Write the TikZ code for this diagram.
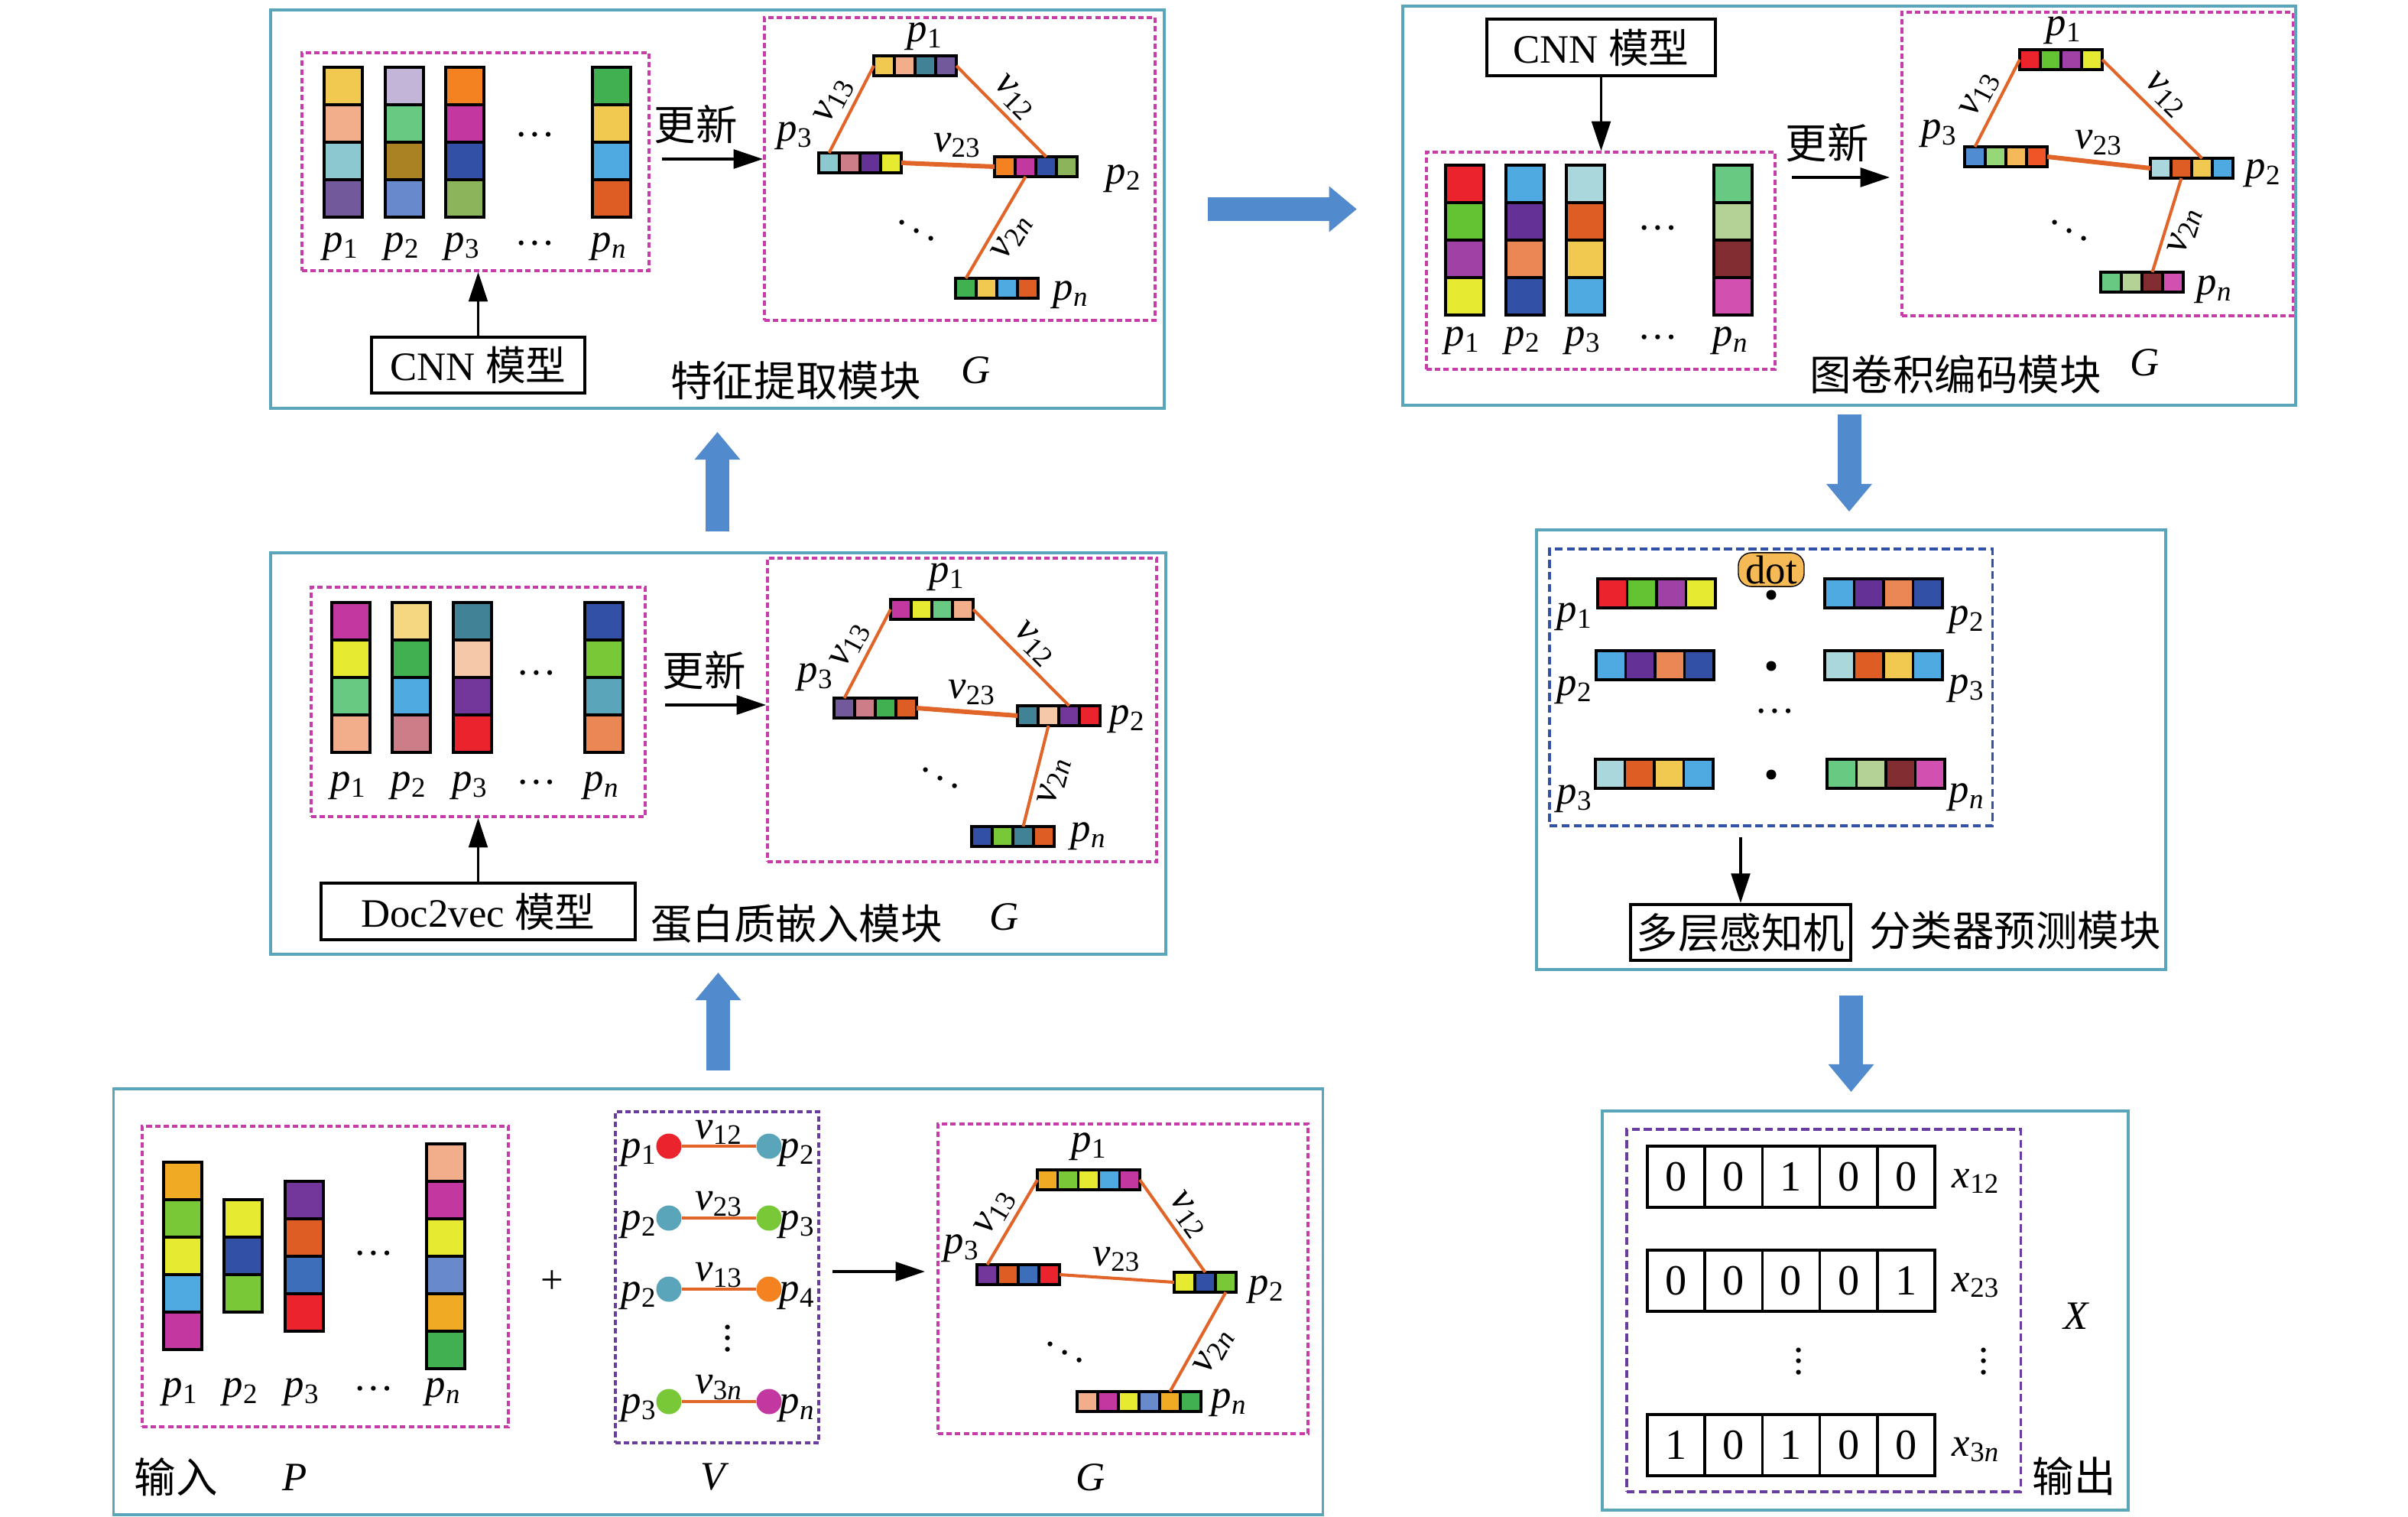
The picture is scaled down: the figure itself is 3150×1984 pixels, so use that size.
\documentclass[tikz,border=0pt]{standalone}
\usepackage{fontspec}
\setmainfont{Liberation Serif}
\newfontfamily\cjk{Noto Sans CJK SC}
\usetikzlibrary{arrows.meta}

% frame and line colours
\definecolor{boxteal}{RGB}{90,165,185}
\definecolor{arrowblue}{RGB}{82,139,205}
\definecolor{dashpink}{RGB}{200,60,170}
\definecolor{dashpurple}{RGB}{105,60,160}
\definecolor{dashblue}{RGB}{50,80,165}
\definecolor{edgeorange}{RGB}{225,100,40}
\definecolor{dotorange}{RGB}{245,185,85}
% cell colours
\definecolor{cY}{RGB}{241,200,80}
\definecolor{cSa}{RGB}{242,174,138}
\definecolor{cLt}{RGB}{139,200,208}
\definecolor{cPu}{RGB}{113,89,155}
\definecolor{cLav}{RGB}{195,181,215}
\definecolor{cGr}{RGB}{104,201,130}
\definecolor{cOl}{RGB}{170,130,35}
\definecolor{cCo}{RGB}{104,138,205}
\definecolor{cOr}{RGB}{245,130,32}
\definecolor{cMa}{RGB}{195,55,160}
\definecolor{cDb}{RGB}{50,80,165}
\definecolor{cOg}{RGB}{140,180,90}
\definecolor{cDg}{RGB}{64,176,80}
\definecolor{cSb}{RGB}{78,170,225}
\definecolor{cRo}{RGB}{222,93,36}
\definecolor{cTe}{RGB}{65,130,150}
\definecolor{cRose}{RGB}{205,125,135}
\definecolor{cVi}{RGB}{100,50,150}
\definecolor{cLy}{RGB}{230,235,50}
\definecolor{cRe}{RGB}{235,35,45}
\definecolor{cLg}{RGB}{100,195,50}
\definecolor{cPl}{RGB}{160,65,165}
\definecolor{cSo}{RGB}{235,135,85}
\definecolor{cLb}{RGB}{170,215,220}
\definecolor{cLgg}{RGB}{180,210,150}
\definecolor{cMr}{RGB}{130,45,50}
\definecolor{cPk}{RGB}{210,80,175}
\definecolor{cBl}{RGB}{80,140,210}
\definecolor{cLgn}{RGB}{150,215,120}
\definecolor{cLor}{RGB}{245,185,90}
\definecolor{cOrr}{RGB}{240,85,40}
\definecolor{cPy}{RGB}{245,215,130}
\definecolor{cPe}{RGB}{245,200,170}
\definecolor{cPv}{RGB}{115,55,155}
\definecolor{cGg}{RGB}{120,200,55}
\definecolor{cTl}{RGB}{90,165,185}
\definecolor{cGo}{RGB}{240,170,35}
\definecolor{cBm}{RGB}{60,110,185}

\newcommand{\lab}[2]{\textit{#1}\textsubscript{#2}}

\tikzset{
  module/.style={draw=boxteal, line width=1.1pt, inner sep=0pt},
  group/.style={draw=dashpink, line width=0.95pt, dash pattern=on 2pt off 1.2pt, inner sep=0pt},
  cell/.style={draw=black, line width=0.9pt, inner sep=0pt, outer sep=0pt},
  colcell/.style={cell, minimum width=0.5cm, minimum height=0.49cm},
  bit/.style={cell, line width=1pt, minimum width=0.752cm, minimum height=0.8cm, font=\fontsize{16}{18}\selectfont},
  model/.style={draw=black, line width=1.1pt, inner sep=0pt},
  edge/.style={draw=edgeorange, line width=1.15pt},
  elab/.style={inner sep=2pt},
  vert/.style={circle, inner sep=0pt, minimum size=0.33cm},
  dotop/.style={circle, fill=black, inner sep=0pt, minimum size=0.13cm},
  dotlab/.style={draw=black, fill=dotorange, rounded corners=0.17cm, inner sep=1pt,
    minimum width=0.86cm, minimum height=0.38cm},
  cn/.style={font=\cjk\fontsize{15.5}{18}\selectfont},
  bigarrow/.style={arrowblue, line width=0.31cm,
    -{Triangle[length=0.36cm, width=0.6cm, line width=0pt]}},
}

% one column of feature cells
\newcommand{\featcol}[4]{%
  \foreach \col [count=\i] in {#4}
    \node[colcell, fill=\col] (#1-\i) at (#2, {#3+(\i-0.5)*49}) {};
}
% one row of feature cells
\newcommand{\featrow}[6]{%
  \foreach \col [count=\i] in {#6}
    \node[cell, fill=\col, minimum width=#4*0.01cm, minimum height=#5*0.01cm]
      (#1-\i) at ({#2+(\i-0.5)*#4}, #3) {};
}

\begin{document}
\begin{tikzpicture}[x=0.01cm, y=-0.01cm, >={Triangle[length=11pt,width=7pt]},
  font=\fontsize{15}{18}\selectfont]
\useasboundingbox (0,0) rectangle (3150,1984);

% modules
\node[module, minimum width=11.69cm, minimum height=5.21cm] (modA) at (938.5,273.5) {};
\node[module, minimum width=11.68cm, minimum height=5.22cm] (modB) at (2419,269) {};
\node[module, minimum width=11.71cm, minimum height=5.25cm] (modC) at (939.5,985.5) {};
\node[module, minimum width=15.81cm, minimum height=5.57cm] (modD) at (939.5,1702.5) {};
\node[module, minimum width=8.23cm, minimum height=5.75cm] (modE) at (2421.5,980.5) {};
\node[module, minimum width=6.88cm, minimum height=5.22cm] (modF) at (2440,1714) {};

% flow between modules
\draw[bigarrow, shorten <=0.22cm, shorten >=0.22cm] (modC.south |- modD.north) -- (modC.south);
\draw[bigarrow, shorten <=0.26cm, shorten >=0.29cm] (modA.south |- modC.north) -- (modA.south);
\draw[bigarrow, shorten <=0.55cm, shorten >=0.58cm] (modA.east) -- (modA.east -| modB.west);
\draw[bigarrow, shorten <=0.1cm, shorten >=0.22cm] (modB.south) -- (modB.south |- modE.north);
\draw[bigarrow, shorten <=0.32cm, shorten >=0.23cm] (modE.south) -- (modE.south |- modF.north);

%%% feature extraction module
\node[group, minimum width=4.54cm, minimum height=2.85cm] (featA) at (622,211.5) {};
\featcol{cA1}{449}{88}{cY,cSa,cLt,cPu}
\featcol{cA2}{529}{88}{cLav,cGr,cOl,cCo}
\featcol{cA3}{608}{88}{cOr,cMa,cDb,cOg}
\featcol{cAn}{800}{88}{cDg,cY,cSb,cRo}
\node (dA) at (700,176) {\dots};
\node (lA1) at (446,323) {\lab{p}{1}};
\node (lA2) at (526,323) {\lab{p}{2}};
\node (lA3) at (605,323) {\lab{p}{3}};
\node (lAd) at (700,318) {\dots};
\node (lAn) at (797,323) {\lab{p}{\textit{n}}};
\node[model, minimum width=2.79cm, minimum height=0.73cm] (cnnA) at (625.5,477.5) {CNN {\cjk 模型}};
\draw[->, line width=1pt] (cnnA.north) -- (cnnA.north |- featA.south);

\node[group, minimum width=5.11cm, minimum height=3.96cm] (graphA) at (1255.5,221) {};
\node[cn] (updtA) at (910,163) {更新};
\coordinate (updA) at (866,208);
\draw[->, line width=1.3pt] (updA) -- (updA -| graphA.west);
\featrow{gA1}{1143}{86}{27}{26}{cY,cSa,cTe,cPu}
\featrow{gA3}{1071}{213}{27}{26}{cLt,cRose,cVi,cLy}
\featrow{gA2}{1301}{218}{27}{26}{cOr,cMa,cDb,cOg}
\featrow{gAn}{1250}{377}{27}{26}{cDg,cY,cSb,cRo}
\node (pA1) at (1210,48) {\lab{p}{1}};
\node (pA3) at (1040,178) {\lab{p}{3}};
\node (pA2) at (1470,234) {\lab{p}{2}};
\node (pAn) at (1401,386) {\lab{p}{\textit{n}}};
\draw[edge] (gA3-1.north) -- node[elab, sloped, above] {\lab{v}{13}} (gA1-1.west);
\draw[edge] (gA1-4.east) -- node[elab, sloped, above] {\lab{v}{12}} (gA2-3.north);
\draw[edge, line width=1.7pt] (gA3-4.east) -- node[elab, pos=0.6, above] {\lab{v}{23}} (gA2-1.west);
\draw[edge] (gAn-1.north) -- node[elab, sloped, below] {\lab{v}{2\textit{n}}} (gA2-2.south);
\node (ddA) at (1199,291) {$\ddots$};
\node[cn] (nameA) at (1041,498) {特征提取模块};
\node (GA) at (1277,484) {\textit{G}};

%%% graph convolution module
\node[model, minimum width=2.99cm, minimum height=0.74cm] (cnnB) at (2094.5,62) {CNN {\cjk 模型}};
\node[group, minimum width=4.56cm, minimum height=2.84cm] (featB) at (2094,341) {};
\draw[->, line width=1pt] (cnnB.south) -- (cnnB.south |- featB.north);
\featcol{cB1}{1916}{216}{cRe,cLg,cPl,cLy}
\featcol{cB2}{1995}{216}{cSb,cVi,cSo,cDb}
\featcol{cB3}{2074}{216}{cLb,cRo,cY,cSb}
\featcol{cBn}{2267}{216}{cGr,cLgg,cMr,cPk}
\node (dB) at (2169,298) {\dots};
\node (lB1) at (1913,446) {\lab{p}{1}};
\node (lB2) at (1992,446) {\lab{p}{2}};
\node (lB3) at (2071,446) {\lab{p}{3}};
\node (lBd) at (2169,441) {\dots};
\node (lBn) at (2264,446) {\lab{p}{\textit{n}}};

\node[group, minimum width=5.11cm, minimum height=3.97cm] (graphB) at (2743.5,214.5) {};
\node[cn] (updtB) at (2390,187) {更新};
\coordinate (updB) at (2344,232);
\draw[->, line width=1.3pt] (updB) -- ([xshift=-0.14cm] updB -| graphB.west);
\featrow{gB1}{2642}{78}{27}{26}{cRe,cLg,cPl,cLy}
\featrow{gB3}{2570}{205}{27}{26}{cBl,cLgn,cLor,cOrr}
\featrow{gB2}{2813}{220}{27}{26}{cLb,cRo,cY,cSb}
\featrow{gBn}{2748}{369}{27}{26}{cGr,cLgg,cMr,cPk}
\node (pB1) at (2700,40) {\lab{p}{1}};
\node (pB3) at (2537,175) {\lab{p}{3}};
\node (pB2) at (2961,227) {\lab{p}{2}};
\node (pBn) at (2897,379) {\lab{p}{\textit{n}}};
\draw[edge] (gB3-1.north) -- node[elab, sloped, above] {\lab{v}{13}} (gB1-1.west);
\draw[edge] (gB1-4.east) -- node[elab, sloped, above] {\lab{v}{12}} (gB2-3.north);
\draw[edge, line width=1.7pt] (gB3-4.east) -- node[elab, pos=0.5, above] {\lab{v}{23}} (gB2-1.west);
\draw[edge] (gBn-3.north) -- node[elab, sloped, below] {\lab{v}{2\textit{n}}} (gB2-2.south);
\node (ddB) at (2707,291) {$\ddots$};
\node[cn] (nameB) at (2558,490) {图卷积编码模块};
\node (GB) at (2806,474) {\textit{G}};

%%% protein embedding module
\node[group, minimum width=4.37cm, minimum height=3cm] (featC) at (625.5,918) {};
\featcol{cC1}{459}{788}{cMa,cLy,cGr,cSa}
\featcol{cC2}{538}{788}{cPy,cDg,cSb,cRose}
\featcol{cC3}{618}{788}{cTe,cPe,cPv,cRe}
\featcol{cCn}{790}{788}{cDb,cGg,cTl,cSo}
\node (dC) at (702,880) {\dots};
\node (lC1) at (456,1028) {\lab{p}{1}};
\node (lC2) at (535,1028) {\lab{p}{2}};
\node (lC3) at (615,1028) {\lab{p}{3}};
\node (lCd) at (702,1023) {\dots};
\node (lCn) at (787,1028) {\lab{p}{\textit{n}}};
\node[model, minimum width=4.11cm, minimum height=0.74cm] (docC) at (625.5,1192) {Doc2vec {\cjk 模型}};
\draw[->, line width=1pt] (docC.north) -- (docC.north |- featC.south);

\node[group, minimum width=5.09cm, minimum height=3.97cm] (graphC) at (1258.5,928.5) {};
\node[cn] (updtC) at (921,877) {更新};
\coordinate (updC) at (870,922);
\draw[->, line width=1.3pt] (updC) -- (updC -| graphC.west);
\featrow{gC1}{1165}{797}{27}{26}{cMa,cLy,cGr,cSa}
\featrow{gC3}{1091}{926}{27}{26}{cPu,cRose,cDg,cRo}
\featrow{gC2}{1331}{936}{27}{26}{cTe,cPe,cPv,cRe}
\featrow{gCn}{1271}{1094}{27}{26}{cDb,cGg,cTe,cRo}
\node (pC1) at (1239,755) {\lab{p}{1}};
\node (pC3) at (1067,886) {\lab{p}{3}};
\node (pC2) at (1475,941) {\lab{p}{2}};
\node (pCn) at (1424,1094) {\lab{p}{\textit{n}}};
\draw[edge] (gC3-1.north) -- node[elab, sloped, above] {\lab{v}{13}} (gC1-1.west);
\draw[edge] (gC1-4.east) -- node[elab, sloped, above] {\lab{v}{12}} (gC2-3.north);
\draw[edge, line width=1.7pt] (gC3-4.east) -- node[elab, pos=0.55, above] {\lab{v}{23}} (gC2-1.west);
\draw[edge] (gCn-3.north) -- node[elab, sloped, below] {\lab{v}{2\textit{n}}} (gC2-2.south);
\node (ddC) at (1230,1007) {$\ddots$};
\node[cn] (nameC) at (1042,1208) {蛋白质嵌入模块};
\node (GC) at (1314,1199) {\textit{G}};

%%% input module
\node[group, minimum width=4.79cm, minimum height=3.93cm] (featD) at (425.5,1669.5) {};
\featcol{cD1}{239}{1520}{cGo,cGg,cLy,cSb,cMa}
\featcol{cD2}{318}{1569}{cLy,cDb,cGg}
\featcol{cD3}{398}{1545}{cPv,cRo,cBm,cRe}
\featcol{cDn}{583}{1496}{cSa,cMa,cLy,cCo,cGo,cDg}
\node (dD) at (489,1639) {\dots};
\node (lD1) at (236,1821) {\lab{p}{1}};
\node (lD2) at (315,1821) {\lab{p}{2}};
\node (lD3) at (395,1821) {\lab{p}{3}};
\node (lDd) at (489,1816) {\dots};
\node (lDn) at (580,1821) {\lab{p}{\textit{n}}};
\node (plus) at (722,1677) {+};

\node[group, draw=dashpurple, minimum width=2.66cm, minimum height=4.33cm] (edgeD) at (938,1670.5) {};
\foreach \r/\y/\ca/\cb/\la/\lb/\lv in {1/1499/cRe/cTl/1/2/12, 2/1593/cTl/cGg/2/3/23,
    3/1686/cTl/cOr/2/4/13, 4/1833/cGg/cMa/3/\textit{n}/3\textit{n}}{
  \node[vert, fill=\ca] (va\r) at (875,\y) {};
  \node[vert, fill=\cb] (vb\r) at (1006,\y) {};
  \draw[edge, line width=1.3pt] (va\r) -- node[elab, inner sep=0pt, above] {\lab{v}{\lv}} (vb\r);
  \node (pa\r) at (836,\y+9) {\lab{p}{\la}};
  \node (pb\r) at (1043,\y+9) {\lab{p}{\lb}};
}
\node[inner sep=0pt] (vd) at (952,1740) {$\vdots$};

\node[group, minimum width=4.84cm, minimum height=4.05cm] (graphD) at (1469,1672.5) {};
\coordinate (arD) at (1089,1663);
\draw[->, line width=1.3pt] (arD) -- ([xshift=-0.15cm] arD -| graphD.west);
\featrow{gD1}{1357}{1543}{26.8}{26}{cGo,cGg,cLy,cSb,cMa}
\featrow{gD3}{1278}{1667}{27}{26}{cPv,cRo,cBm,cRe}
\featrow{gD2}{1536}{1677}{27}{26}{cLy,cDb,cGg}
\featrow{gDn}{1409}{1833}{27}{26}{cSa,cMa,cLy,cCo,cGo,cDg}
\node (pD1) at (1425,1500) {\lab{p}{1}};
\node (pD3) at (1258,1633) {\lab{p}{3}};
\node (pD2) at (1657,1687) {\lab{p}{2}};
\node (pDn) at (1608,1835) {\lab{p}{\textit{n}}};
\draw[edge] (gD3-1.north) -- node[elab, sloped, above] {\lab{v}{13}} (gD1-1.west);
\draw[edge] (gD1-5.east) -- node[elab, sloped, above] {\lab{v}{12}} (gD2-2.north);
\draw[edge] (gD3-4.east) -- node[elab, pos=0.5, above] {\lab{v}{23}} (gD2-1.west);
\draw[edge] (gDn-5.north) -- node[elab, sloped, below] {\lab{v}{2\textit{n}}} (gD2-3.south);
\node (ddD) at (1393,1758) {$\ddots$};
\node[cn] (inD) at (230,1932) {输入};
\node (PD) at (386,1932) {\textit{P}};
\node (VD) at (935,1932) {\textit{V}};
\node (GD) at (1427,1932) {\textit{G}};

%%% classifier module
\node[group, draw=dashblue, dash pattern=on 3pt off 1.5pt, minimum width=5.79cm, minimum height=3.62cm] (dotE) at (2316.5,899) {};
\featrow{eL1}{2090}{776}{38.5}{38}{cRe,cLg,cPl,cLy}
\featrow{eR1}{2387}{776}{38.5}{38}{cSb,cVi,cSo,cDb}
\featrow{eL2}{2088}{870}{38.5}{38}{cSb,cVi,cSo,cDb}
\featrow{eR2}{2387}{870}{38.5}{38}{cLb,cRo,cY,cSb}
\featrow{eL3}{2087}{1012}{38.5}{38}{cLb,cRo,cY,cSb}
\featrow{eR3}{2390}{1012}{38.5}{38}{cGr,cLgg,cMr,cPk}
\node[dotop] (dt1) at (2317,778) {};
\node[dotop] (dt2) at (2317,871) {};
\node[dotop] (dt3) at (2317,1013) {};
\node[dotlab] (dotname) at (2317,745) {dot};
\node (dE) at (2322,930) {\dots};
\node (qL1) at (2060,807) {\lab{p}{1}};
\node (qR1) at (2573,811) {\lab{p}{2}};
\node (qL2) at (2060,903) {\lab{p}{2}};
\node (qR2) at (2573,901) {\lab{p}{3}};
\node (qL3) at (2060,1045) {\lab{p}{3}};
\node (qRn) at (2573,1043) {\lab{p}{\textit{n}}};
\node[model, cn, minimum width=2.88cm, minimum height=0.73cm] (mlpE) at (2277,1219.5) {多层感知机};
\draw[->, line width=1pt, shorten <=0.13cm] (dotE.south -| mlpE.north) -- (mlpE.north);
\node[cn] (nameE) at (2636,1217) {分类器预测模块};

%%% output module
\node[group, draw=dashpurple, dash pattern=on 3pt off 1.5pt, minimum width=5.15cm, minimum height=4.74cm] (outF) at (2385.5,1714) {};
\foreach \r/\y/\bits/\sub in {1/1539/{0,0,1,0,0}/12, 2/1675/{0,0,0,0,1}/23, 3/1890/{1,0,1,0,0}/3\textit{n}}{
  \foreach \b [count=\i] in \bits
    \node[bit] (x\r-\i) at ({2155+(\i-0.5)*75.2},\y) {\b};
  \node (xl\r) at (2585,\y+6) {\lab{x}{\sub}};
}
\node[inner sep=0pt] (vF1) at (2353,1770) {$\vdots$};
\node[inner sep=0pt] (vF2) at (2595,1770) {$\vdots$};
\node (XF) at (2716,1721) {\textit{X}};
\node[cn] (outlab) at (2713,1931) {输出};
\end{tikzpicture}
\end{document}
